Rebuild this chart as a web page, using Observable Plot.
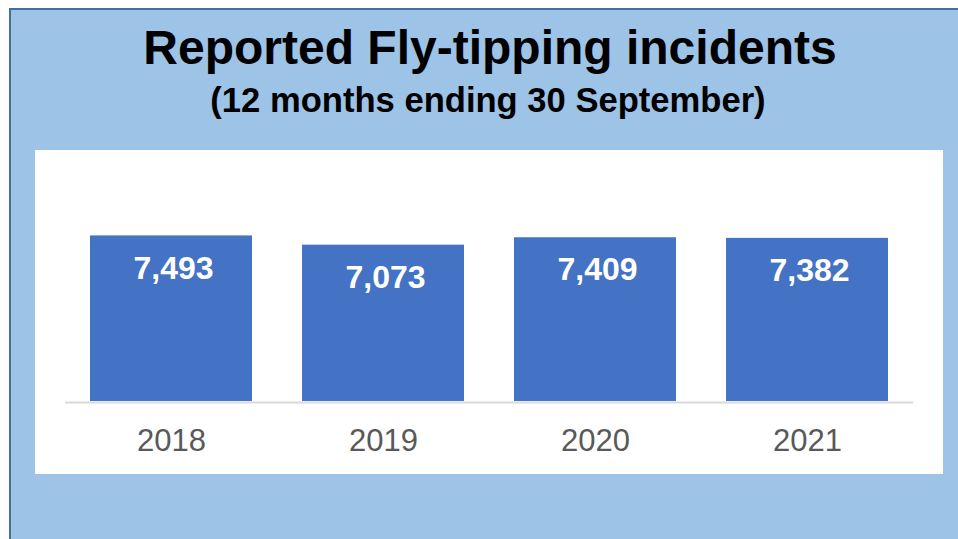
<!DOCTYPE html>
<html>
<head>
<meta charset="utf-8">
<script src="https://cdn.jsdelivr.net/npm/d3@7"></script>
<script src="https://cdn.jsdelivr.net/npm/@observablehq/plot@0.6"></script>
<style>
  html, body { margin: 0; padding: 0; background: #ffffff; width: 958px; height: 539px; overflow: hidden; font-family: "Liberation Sans", Arial, sans-serif; }
  #panel { position: absolute; left: 9px; top: 8px; width: 949px; height: 531px; background: #9dc3e6; border-left: 2px solid #41719c; border-top: 2px solid #41719c; box-sizing: border-box; }
  .title { position: absolute; left: 9px; width: 962px; text-align: center; font-weight: bold; color: #000; line-height: 1; white-space: nowrap; }
  #t1 { top: 24px; font-size: 48px; }
  #t2 { top: 82.5px; font-size: 34.6px; left: 7px; }
  #chart { position: absolute; left: 35px; top: 150px; width: 908px; height: 324px; background: #ffffff; }
</style>
</head>
<body>
<div id="panel"></div>
<div class="title" id="t1">Reported Fly-tipping incidents</div>
<div class="title" id="t2">(12 months ending 30 September)</div>
<div id="chart"></div>
<script>
const years = ["2018", "2019", "2020", "2021"];
const values = [7493, 7073, 7409, 7382];

const data = years.map((year, i) => ({year, value: values[i]}));
const fmt = d3.format(",");

const chart = Plot.plot({
  width: 908,
  height: 324,
  marginLeft: 30,
  marginRight: 30,
  marginTop: 30,
  marginBottom: 73,
  style: {background: "#ffffff", fontFamily: "'Liberation Sans', Arial, sans-serif"},
  x: {domain: years, paddingInner: 0.236, paddingOuter: 0.118, label: null},
  y: {domain: [0, 10000], axis: null},
  marks: [
    Plot.ruleY([0], {stroke: "#d9d9d9", strokeWidth: 2, dy: 1}),
    Plot.barY(data, {x: "year", y: "value", fill: "#4472c4"}),
    Plot.text(data, {x: "year", y: "value", text: d => fmt(d.value), fill: "#ffffff", fontSize: 32, fontWeight: "bold", lineAnchor: "top", dy: 20, dx: 2}),
    Plot.axisX({tickSize: 0, tickPadding: 27, fontSize: 31, color: "#595959", label: null})
  ]
});
document.getElementById("chart").appendChild(chart);
</script>
</body>
</html>
